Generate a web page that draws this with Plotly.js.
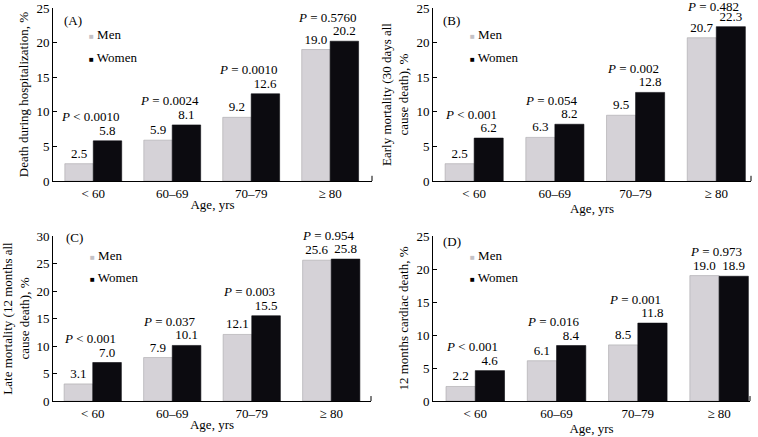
<!DOCTYPE html>
<html>
<head>
<meta charset="utf-8">
<script src="https://cdn.plot.ly/plotly-3.0.1.min.js"></script>
<style>
  body { margin: 0; padding: 0; background: #fff; }
  #chart { width: 758px; height: 437px; }
</style>
</head>
<body>
<div id="chart"></div>
<script>
// age groups on every x axis
var ageGroups = ['< 60', '60\u201369', '70\u201379', '\u2265 80'];

// (A) death during hospitalization
var hospMen = [2.5, 5.9, 9.2, 19.0];
var hospWomen = [5.8, 8.1, 12.6, 20.2];
var hospP = ['&lt; 0.0010', '= 0.0024', '= 0.0010', '= 0.5760'];

// (B) early mortality, 30 days
var earlyMen = [2.5, 6.3, 9.5, 20.7];
var earlyWomen = [6.2, 8.2, 12.8, 22.3];
var earlyP = ['&lt; 0.001', '= 0.054', '= 0.002', '= 0.482'];

// (C) late mortality, 12 months
var lateMen = [3.1, 7.9, 12.1, 25.6];
var lateWomen = [7.0, 10.1, 15.5, 25.8];
var lateP = ['&lt; 0.001', '= 0.037', '= 0.003', '= 0.954'];

// (D) 12 months cardiac death
var cardMen = [2.2, 6.1, 8.5, 19.0];
var cardWomen = [4.6, 8.4, 11.8, 18.9];
var cardP = ['&lt; 0.001', '= 0.016', '= 0.001', '= 0.973'];

var serif = 'Liberation Serif';
var menColor = '#d5d2d7';
var womenColor = '#0c0b10';

var data = [];
var layout = {
  width: 758,
  height: 437,
  margin: {l: 0, r: 0, t: 0, b: 0},
  paper_bgcolor: '#fff',
  plot_bgcolor: '#fff',
  font: {family: serif, size: 13, color: '#000'},
  barmode: 'group',
  bargap: 0.28,
  bargroupgap: 0,
  showlegend: false,
  annotations: [],
  shapes: []
};

function px(x) { return x / 758; }
function py(y) { return 1 - y / 437; }

// one panel: n = '' / '2' / '3' / '4'
function panel(n, opts) {
  var xa = 'x' + n, ya = 'y' + n;
  var bars = [[opts.men, 'Men', menColor, '#a8a6aa'], [opts.women, 'Women', womenColor, womenColor]];
  bars.forEach(function (b) {
    data.push({
      type: 'bar',
      x: ageGroups,
      y: b[0],
      name: b[1],
      xaxis: xa,
      yaxis: ya,
      marker: {color: b[2], line: {color: b[3], width: 0.6}},
      texttemplate: '%{y:.1f}',
      textposition: 'outside',
      textfont: {family: serif, size: 13, color: '#000'},
      constraintext: 'none',
      cliponaxis: false,
      hoverinfo: 'skip'
    });
  });

  layout['xaxis' + n] = {
    domain: [px(opts.left), px(opts.right)],
    anchor: ya,
    type: 'category',
    range: opts.xrange,
    showline: true,
    linecolor: '#000',
    linewidth: 1,
    ticks: '',
    showgrid: false,
    zeroline: false,
    tickfont: {family: serif, size: 13},
    title: {text: 'Age, yrs', font: {family: serif, size: 13}, standoff: 0},
    fixedrange: true
  };
  layout['yaxis' + n] = {
    domain: [py(opts.bottom), py(opts.top)],
    anchor: xa,
    range: [0, opts.ymax],
    dtick: 5,
    ticks: 'inside',
    ticklen: 4,
    tickcolor: '#000',
    showline: true,
    linecolor: '#000',
    linewidth: 1,
    showgrid: false,
    zeroline: false,
    tickfont: {family: serif, size: 13},
    title: {text: opts.ytitle, font: {family: serif, size: 13}, standoff: 4},
    fixedrange: true
  };

  // small end tick on the x axis
  layout.shapes.push({
    type: 'line', xref: xa + ' domain', yref: ya + ' domain',
    x0: 1, x1: 1, y0: 0, y1: 0.03,
    line: {color: '#000', width: 1}
  });

  // P values over each age group, kept inside the panel top
  var scale = (opts.bottom - opts.top) / opts.ymax;
  opts.p.forEach(function (t, i) {
    var top = Math.max(opts.men[i], opts.women[i]);
    var barTopPx = opts.bottom - top * scale;
    layout.annotations.push({
      xref: xa, yref: ya,
      x: i, y: top,
      yshift: Math.min(24, barTopPx - (opts.top - 1)), xshift: -3,
      text: '<i>P</i> ' + t,
      showarrow: false,
      xanchor: 'center', yanchor: 'middle',
      font: {family: serif, size: 13}
    });
  });

  // panel letter
  layout.annotations.push({
    xref: 'paper', yref: 'paper',
    x: px(opts.label[0]), y: py(opts.label[1]),
    text: opts.letter, showarrow: false,
    xanchor: 'left', yanchor: 'middle',
    font: {family: serif, size: 13}
  });

  // legend drawn as text with small squares
  layout.annotations.push({
    xref: 'paper', yref: 'paper',
    x: px(opts.legend[0]), y: py(opts.legend[1]),
    text: '<span style="color:#c4c2c6;font-size:8px">\u25A0</span> Men',
    showarrow: false, xanchor: 'left', yanchor: 'middle',
    font: {family: serif, size: 13}
  });
  layout.annotations.push({
    xref: 'paper', yref: 'paper',
    x: px(opts.legend[0]), y: py(opts.legend[1] + 22),
    text: '<span style="color:#000;font-size:8px">\u25A0</span> Women',
    showarrow: false, xanchor: 'left', yanchor: 'middle',
    font: {family: serif, size: 13}
  });
}

panel('', {
  men: hospMen, women: hospWomen, p: hospP, ymax: 25,
  left: 53, right: 372, top: 8, bottom: 181, xrange: [-0.51, 3.53],
  ytitle: 'Death during hospitalization, %',
  letter: '(A)', label: [62, 21], legend: [87, 35]
});
panel('2', {
  men: earlyMen, women: earlyWomen, p: earlyP, ymax: 25,
  left: 433, right: 751, top: 8, bottom: 181, xrange: [-0.51, 3.43],
  ytitle: 'Early mortality (30 days all<br>cause death), %',
  letter: '(B)', label: [441, 21], legend: [468, 35]
});
panel('3', {
  men: lateMen, women: lateWomen, p: lateP, ymax: 30,
  left: 53, right: 371, top: 236, bottom: 401, xrange: [-0.5, 3.5],
  ytitle: 'Late mortality (12 months all<br>cause death), %',
  letter: '(C)', label: [64, 237], legend: [88, 255]
});
panel('4', {
  men: cardMen, women: cardWomen, p: cardP, ymax: 25,
  left: 433, right: 750, top: 236, bottom: 401, xrange: [-0.52, 3.38],
  ytitle: '12 months cardiac death, %',
  letter: '(D)', label: [441, 241], legend: [468, 255]
});

Plotly.newPlot('chart', data, layout, {displayModeBar: false, staticPlot: true});
</script>
</body>
</html>
